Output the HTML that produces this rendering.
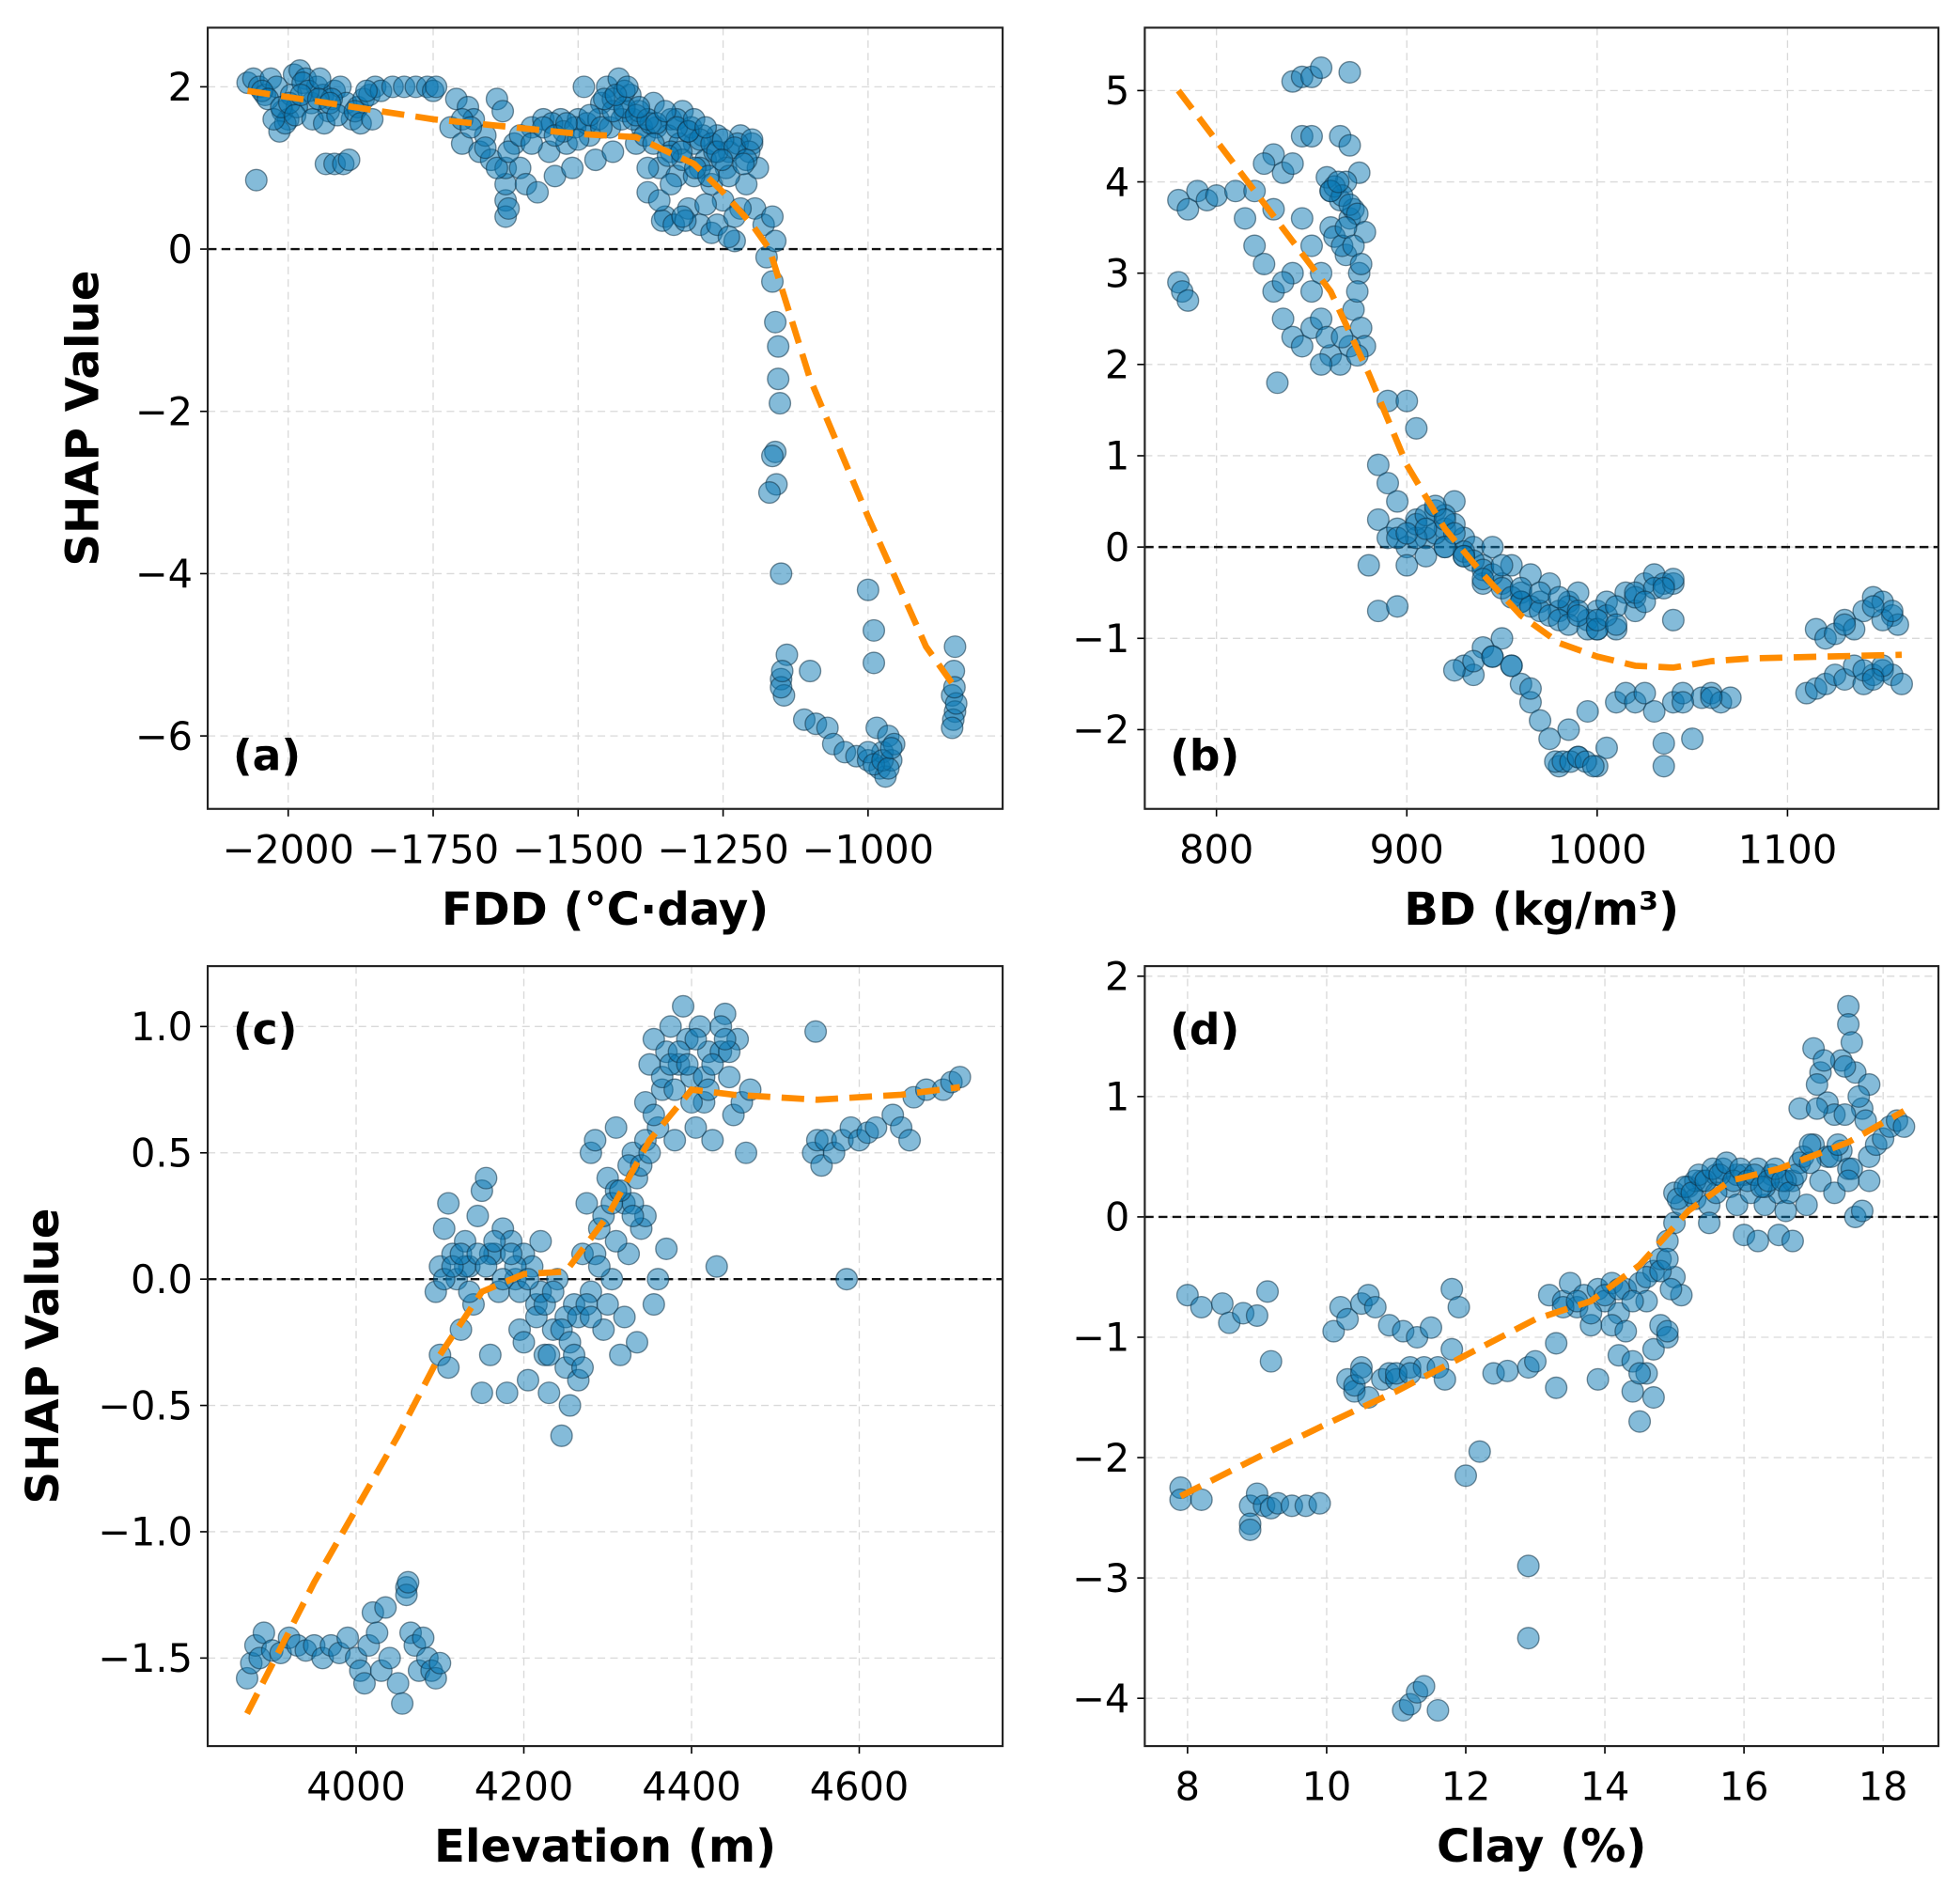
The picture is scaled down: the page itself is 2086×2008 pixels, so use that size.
<!DOCTYPE html>
<html><head><meta charset="utf-8">
<style>
html,body{margin:0;padding:0;background:#fff;}
svg{display:block;}
text{font-family:"DejaVu Sans","Liberation Sans",sans-serif;fill:#000;}
</style></head>
<body>
<svg id="fig" width="2086" height="2008" viewBox="0 0 1558 1500" xmlns="http://www.w3.org/2000/svg"></svg>
<script>
// ---------- Panel (a) FDD ----------
const aX=[-2070,-2060,-2050,-2040,-2030,-2020,-2010,-2000,-1990,-1980,-1970,-1960,-1950,-1940,-1930,-1920,-1910,-1900,-1890,-1880,-1870,-1860,-1850,-2015,-2005,-1995,-2055,-1935,-1920,-1905,-1895,-1840,-1820,-1800,-1780,-1760,-1750,-1745,-1720,-1710,-1700,-1690,-1680,-1670,-1660,-1650,-1640,-1630,-1625,-1625,-1625,-1625,-1620,-1610,-1600,-1590,-1580,-1570,-1560,-1550,-1540,-1530,-1520,-1510,-1500,-1490,-1480,-1470,-1460,-1450,-1440,-1430,-1420,-1410,-1400,-1390,-1380,-1370,-1360,-1350,-1340,-1330,-1320,-1310,-1300,-1290,-1280,-1270,-1260,-1250,-1240,-1230,-1220,-1210,-1200,-1195,-1190,-1180,-1175,-1165,-1160,-1165,-1160,-1155,-1155,-1152,-1160,-1158,-1150,-1150,-1145,-1140,-1110,-1100,-1090,-1070,-1060,-1040,-1020,-1000,-990,-990,-1000,-985,-980,-975,-970,-965,-960,-955,-850,-852,-855,-850,-853,-848,-851,-855,-1545,-1525,-1505,-1485,-1465,-1445,-1425,-1405,-1385,-1365,-1345,-1325,-1305,-1285,-1265,-1245,-1225,-1205,-1355,-1335,-1315,-1975,-1965,-1945,-1925,-1985,-1440,-1420,-1395,-1375,-1330,-1310,-1290,-1270];
const aY=[2.05,2.1,2.0,1.9,2.1,2.0,1.7,1.6,2.15,2.2,2.1,1.8,2.0,1.9,1.7,1.95,2.0,1.8,1.6,1.75,1.85,1.9,2.0,1.45,1.55,1.9,0.85,1.05,1.05,1.05,1.1,1.95,2.0,2.0,2.0,2.0,1.95,2.0,1.5,1.85,1.3,1.75,1.6,1.2,1.4,1.1,1.85,1.7,0.6,0.8,1.0,0.4,0.5,1.3,1.0,0.8,1.5,0.7,1.6,1.2,0.9,1.6,1.3,1.0,1.6,2.0,1.4,1.1,1.8,2.0,1.2,2.1,1.7,1.9,1.3,1.5,0.7,1.8,1.0,0.4,1.6,0.9,1.7,0.5,1.3,0.3,1.1,0.2,1.4,0.6,1.2,0.1,1.4,0.8,1.3,0.5,1.0,0.3,-0.1,0.4,0.1,-0.4,-0.9,-1.2,-1.6,-1.9,-2.5,-2.9,-4.0,-5.3,-5.5,-5.0,-5.8,-5.2,-5.85,-5.9,-6.1,-6.2,-6.25,-4.2,-4.7,-5.1,-6.3,-5.9,-6.4,-6.2,-6.5,-6.0,-6.3,-6.1,-4.9,-5.2,-5.5,-5.7,-5.8,-5.6,-5.4,-5.9,1.55,1.45,1.5,1.55,1.6,1.5,1.6,1.6,1.4,1.5,1.4,1.3,1.5,1.4,1.2,1.0,1.3,1.2,0.35,0.3,0.35,2.05,1.95,2.1,1.85,1.75,1.85,1.95,1.7,1.55,1.6,1.45,1.35,1.3];
const aX2=[-2045,-2035,-2025,-2012,-1998,-1988,-1978,-1958,-1948,-1938,-1928,-1915,-1885,-1875,-1865,-1855,-1700,-1685,-1660,-1640,-1620,-1600,-1580,-1560,-1540,-1520,-1500,-1480,-1460,-1440,-1420,-1400,-1380,-1365,-1350,-1340,-1330,-1320,-1310,-1300,-1290,-1280,-1270,-1260,-1250,-1240,-1230,-1220,-1210,-1200,-1380,-1360,-1340,-1320,-1300,-1280,-1260,-1240,-1455,-1435,-1415,-1395,-1370,-1345,-1322,-1298,-1275,-1252,-1230,-1215,-1000,-990,-975,-965,-960,-1150,-1148,-1165,-1170];
const aY2=[1.95,1.85,1.6,1.75,1.8,1.65,1.9,1.6,1.85,1.55,1.8,1.65,1.7,1.55,1.95,1.6,1.6,1.5,1.25,1.0,1.2,1.4,1.3,1.5,1.4,1.55,1.35,1.65,1.5,1.7,1.75,1.65,1.6,1.55,1.7,1.2,1.5,1.1,1.45,1.6,1.0,1.5,0.8,1.2,1.35,0.9,1.25,0.5,1.1,1.35,1.0,0.6,0.8,0.4,0.9,0.55,0.3,0.15,1.85,1.9,2.0,1.75,1.3,1.15,1.2,1.0,0.9,1.1,0.4,1.05,-6.2,-6.35,-6.3,-6.4,-6.15,-5.4,-5.2,-2.55,-3.0];
const aLineX=[-2070,-1750,-1500,-1400,-1300,-1250,-1200,-1170,-1100,-1000,-900,-850];
const aLineY=[1.95,1.6,1.42,1.38,1.05,0.7,0.3,0.0,-1.6,-3.3,-4.9,-5.4];
const aXTicks=[-2000,-1750,-1500,-1250,-1000];
const aXTickLabels=["−2000","−1750","−1500","−1250","−1000"];
const aYTicks=[2,0,-2,-4,-6];
const aYTickLabels=["2","0","−2","−4","−6"];

// ---------- Panel (b) BD ----------
const bX=[780,782,785,780,785,790,795,800,810,815,820,825,830,835,840,825,830,835,840,845,850,855,860,865,870,832,840,845,850,855,870,845,850,855,860,865,870,875,860,862,865,868,870,872,875,876,878,845,850,840,830,820,835,850,855,890,900,905,885,890,895,885,890,895,900,905,910,915,920,925,930,935,940,945,950,955,960,965,970,975,980,985,990,995,1000,1005,1010,1015,1020,1025,1030,1035,1040,880,885,895,900,910,920,930,935,940,945,950,955,960,965,970,975,980,985,990,995,1000,1005,1010,1015,1020,1025,1030,1035,1035,1040,1045,1050,1055,1060,1065,1070,1110,1115,1120,1125,1130,1135,1140,1145,1150,1155,1160,1115,1120,1125,1130,1135,1140,1145,1150,1155,1158,920,915,905,925,868,872,866,874,930,940,960,985,1000,1020];
const bY=[2.9,2.8,2.7,3.8,3.7,3.9,3.8,3.85,3.9,3.6,3.3,3.1,4.3,4.1,4.2,4.2,2.8,2.5,2.3,2.2,2.4,2.5,2.1,2.0,2.2,1.8,5.1,5.15,5.15,5.25,5.2,4.5,4.5,3.0,3.5,4.5,4.4,4.1,3.9,3.4,3.8,3.2,3.6,2.6,3.0,2.4,2.2,3.6,3.3,3.0,3.7,3.9,2.9,2.8,2.0,1.6,1.6,1.3,0.9,0.7,0.5,0.3,0.1,0.2,0.0,0.3,0.1,0.4,0.2,0.5,0.1,0.0,-0.2,0.0,-0.4,-0.2,-0.5,-0.3,-0.6,-0.4,-0.7,-0.6,-0.5,-0.8,-0.7,-0.6,-0.9,-0.5,-0.7,-0.4,-0.3,-0.4,-0.8,-0.2,-0.7,-0.65,-0.2,-0.1,0.0,-1.3,-1.4,-1.1,-1.2,-1.0,-1.3,-1.5,-1.7,-1.9,-2.1,-2.4,-2.0,-2.3,-1.8,-2.4,-2.2,-1.7,-1.6,-1.7,-1.6,-1.8,-2.4,-2.15,-1.7,-1.6,-2.1,-1.65,-1.6,-1.7,-1.65,-1.6,-1.55,-1.5,-1.4,-1.45,-1.3,-1.5,-1.4,-1.35,-1.4,-1.5,-0.9,-1.0,-0.95,-0.8,-0.9,-0.7,-0.55,-0.6,-0.75,-0.85,0.35,0.15,0.1,0.25,4.0,3.7,3.3,2.8,-0.1,-0.4,-0.6,-0.65,-0.9,-0.55];
const bX2=[858,862,866,870,874,878,860,864,868,872,876,858,866,874,905,910,915,920,925,930,935,940,945,950,955,960,965,970,975,980,985,990,995,1000,1005,1010,1020,1030,1040,895,900,910,920,930,940,950,960,970,980,990,1000,1010,1025,1045,1060,978,982,986,990,994,998,925,935,945,955,965,1040,1035,1150,1155,1145,1140,1150,1130,1145];
const bY2=[4.05,3.95,3.85,3.75,3.65,3.45,3.9,4.0,3.5,3.3,3.1,2.3,2.3,2.1,0.25,0.35,0.45,0.3,0.15,-0.05,-0.15,-0.25,-0.3,-0.45,-0.55,-0.6,-0.65,-0.7,-0.75,-0.8,-0.85,-0.7,-0.9,-0.9,-0.75,-0.65,-0.5,-0.45,-0.4,0.1,0.15,0.2,0.0,-0.1,-0.35,-0.2,-0.45,-0.5,-0.55,-0.75,-0.8,-0.85,-0.6,-1.7,-1.65,-2.35,-2.35,-2.35,-2.3,-2.35,-2.4,-1.35,-1.25,-1.2,-1.3,-1.55,-0.35,-0.45,-0.8,-0.7,-0.65,-1.35,-1.3,-0.85,-1.45];
const bLineX=[780,820,860,880,900,920,940,960,980,1000,1020,1040,1060,1080,1120,1160];
const bLineY=[5.0,3.9,2.8,1.9,0.9,0.2,-0.3,-0.75,-1.05,-1.2,-1.3,-1.32,-1.25,-1.22,-1.2,-1.18];
const bXTicks=[800,900,1000,1100];
const bXTickLabels=["800","900","1000","1100"];
const bYTicks=[5,4,3,2,1,0,-1,-2];
const bYTickLabels=["5","4","3","2","1","0","−1","−2"];

// ---------- Panel (c) Elevation ----------
const cX=[3870,3875,3880,3885,3890,3900,3910,3920,3930,3940,3950,3960,3970,3980,3990,4000,4005,4010,4015,4020,4025,4030,4035,4040,4050,4055,4060,4065,4070,4075,4080,4085,4090,4095,4100,4095,4100,4105,4110,4100,4110,4115,4120,4125,4130,4135,4140,4145,4150,4155,4150,4160,4165,4170,4175,4180,4185,4190,4195,4200,4205,4210,4215,4220,4225,4230,4235,4240,4245,4250,4255,4260,4265,4270,4275,4280,4285,4290,4295,4300,4305,4310,4315,4320,4325,4330,4335,4340,4345,4350,4355,4360,4365,4370,4375,4380,4385,4390,4395,4400,4405,4410,4415,4420,4425,4430,4435,4440,4445,4450,4455,4460,4465,4470,4360,4370,4355,4345,4545,4550,4555,4548,4560,4570,4580,4585,4590,4600,4610,4620,4640,4650,4660,4665,4680,4700,4710,4720,4130,4160,4190,4220,4250,4280,4310,4330];
const cY=[-1.58,-1.52,-1.45,-1.5,-1.4,-1.47,-1.48,-1.42,-1.45,-1.47,-1.45,-1.5,-1.45,-1.48,-1.42,-1.5,-1.55,-1.6,-1.45,-1.32,-1.4,-1.55,-1.3,-1.5,-1.6,-1.68,-1.22,-1.4,-1.45,-1.55,-1.42,-1.5,-1.55,-1.58,-1.52,-0.05,0.05,0.2,0.3,-0.3,-0.35,0.1,0.0,-0.2,0.15,0.05,-0.1,0.25,0.35,0.4,-0.45,-0.3,0.1,-0.05,0.2,-0.45,0.15,0.0,-0.2,0.1,-0.4,0.05,-0.1,0.15,-0.3,-0.45,-0.2,0.0,-0.62,-0.35,-0.5,-0.1,-0.4,0.1,0.3,0.5,0.55,0.2,-0.2,0.4,0.0,0.6,-0.3,0.3,0.1,0.5,-0.25,0.2,0.7,0.85,0.95,0.6,0.75,0.9,1.0,0.55,0.85,1.08,0.95,0.8,0.6,1.0,0.7,0.9,0.55,0.05,0.9,1.05,0.8,0.65,0.95,0.7,0.5,0.75,0.0,0.12,-0.1,0.25,0.5,0.55,0.45,0.98,0.55,0.5,0.55,0.0,0.6,0.55,0.58,0.6,0.65,0.6,0.55,0.72,0.75,0.75,0.78,0.8,0.05,0.1,0.05,-0.05,-0.15,-0.05,0.35,0.3];
const cX2=[4105,4115,4125,4135,4145,4155,4165,4175,4185,4195,4205,4215,4225,4235,4245,4255,4265,4275,4285,4295,4305,4315,4325,4335,4345,4355,4365,4375,4385,4395,4405,4415,4425,4435,4445,4290,4300,4310,4320,4330,4340,4350,4200,4230,4260,4270,4280,4380,4400,4420,4440,4060,4062];
const cY2=[0.0,0.05,0.1,-0.05,0.1,0.05,0.15,0.0,0.1,-0.05,0.0,-0.15,-0.1,-0.05,-0.2,-0.25,-0.15,-0.1,0.1,0.25,0.3,0.35,0.45,0.4,0.55,0.65,0.8,0.85,0.9,0.85,0.95,0.8,0.85,1.0,0.9,0.05,-0.1,0.15,-0.15,0.25,0.45,0.5,-0.25,-0.3,-0.3,-0.35,-0.15,0.75,0.7,0.75,0.95,-1.25,-1.2];
const cLineX=[3870,3950,4050,4100,4150,4200,4250,4300,4350,4400,4450,4550,4650,4720];
const cLineY=[-1.72,-1.2,-0.62,-0.3,-0.05,0.02,0.03,0.25,0.55,0.75,0.73,0.71,0.73,0.76];
const cXTicks=[4000,4200,4400,4600];
const cXTickLabels=["4000","4200","4400","4600"];
const cYTicks=[1.0,0.5,0.0,-0.5,-1.0,-1.5];
const cYTickLabels=["1.0","0.5","0.0","−0.5","−1.0","−1.5"];

// ---------- Panel (d) Clay ----------
const dX=[7.9,7.9,8.0,8.2,8.2,8.5,8.6,8.8,8.9,8.9,8.9,9.0,9.0,9.1,9.15,9.2,9.2,9.3,9.5,9.7,9.9,10.1,10.2,10.3,10.3,10.4,10.5,10.5,10.6,10.6,10.7,10.8,10.9,10.9,11.0,11.1,11.1,11.2,11.2,11.3,11.3,11.4,11.4,11.5,11.6,11.6,11.7,11.8,11.8,11.9,12.0,12.2,12.4,12.6,12.9,12.9,12.9,13.0,13.2,13.3,13.3,13.4,13.5,13.6,13.7,13.8,13.9,13.9,14.0,14.1,14.2,14.2,14.3,14.4,14.4,14.5,14.5,14.6,14.6,14.7,14.7,14.8,14.8,14.9,14.9,15.0,15.0,15.1,15.0,15.1,15.2,15.3,15.4,15.5,15.5,15.6,15.7,15.8,15.9,16.0,16.0,16.1,16.2,16.2,16.3,16.4,16.5,16.5,16.6,16.7,16.7,16.8,16.8,16.9,17.0,17.0,17.1,17.1,17.2,17.3,17.3,17.4,17.4,17.5,17.5,17.6,17.6,17.7,17.7,17.8,17.8,17.9,18.0,18.1,18.2,18.3,15.3,15.6,15.9,16.3,16.6,17.2,17.5,17.8];
const dY=[-2.25,-2.35,-0.65,-0.75,-2.35,-0.72,-0.88,-0.8,-2.4,-2.55,-2.6,-2.3,-0.82,-2.4,-0.62,-1.2,-2.42,-2.38,-2.4,-2.4,-2.38,-0.95,-0.75,-1.35,-0.85,-1.45,-0.72,-1.25,-0.65,-1.5,-0.75,-1.35,-0.9,-1.3,-1.35,-0.95,-4.1,-1.25,-4.05,-1.0,-3.95,-1.25,-3.9,-0.92,-1.25,-4.1,-1.35,-0.6,-1.1,-0.75,-2.15,-1.95,-1.3,-1.28,-2.9,-3.5,-1.25,-1.2,-0.65,-1.05,-1.42,-0.7,-0.55,-0.75,-0.65,-0.9,-1.35,-0.6,-0.7,-0.55,-1.15,-0.8,-0.6,-1.2,-1.45,-1.7,-0.55,-1.3,-0.7,-0.45,-1.1,-0.9,-0.35,-0.2,-1.0,-0.05,-0.5,-0.65,0.2,0.1,0.25,0.15,0.3,0.1,-0.05,0.35,0.4,0.25,0.1,0.35,-0.15,0.2,0.4,-0.2,0.1,0.35,-0.15,0.2,0.05,0.3,-0.2,0.9,0.45,0.1,1.4,0.6,1.2,0.3,0.95,0.85,0.2,1.3,0.55,1.75,1.6,1.2,0.0,0.9,0.05,1.1,0.5,0.6,0.65,0.75,0.8,0.75,0.3,0.2,0.35,0.25,0.3,0.5,0.4,0.3];
const dX2=[15.05,15.15,15.25,15.35,15.45,15.55,15.65,15.75,15.85,15.95,16.05,16.15,16.25,16.35,16.45,16.55,16.65,16.75,16.85,16.95,17.05,17.15,17.25,17.35,17.45,17.55,17.65,17.75,17.55,17.5,17.45,17.05,16.95,13.4,13.6,13.8,14.0,14.2,14.4,14.6,14.8,14.9,14.95,14.1,14.3,14.5,14.7,14.9,10.4,10.5,11.0,11.2];
const dY2=[0.15,0.25,0.2,0.35,0.3,0.4,0.35,0.45,0.3,0.4,0.3,0.35,0.25,0.3,0.4,0.3,0.2,0.35,0.5,0.45,1.1,1.3,0.5,0.6,1.25,1.45,1.0,0.8,0.4,0.3,0.85,0.9,0.6,-0.75,-0.7,-0.8,-0.65,-0.6,-0.7,-0.5,-0.45,-0.35,-0.6,-0.9,-0.95,-1.3,-1.5,-0.95,-1.4,-1.3,-1.3,-1.3];
const dLineX=[7.9,9,10,11,12,13,13.8,14.5,15.2,15.8,16.5,17.5,18.3];
const dLineY=[-2.32,-2.0,-1.72,-1.45,-1.15,-0.85,-0.7,-0.4,0.05,0.3,0.4,0.62,0.88];
const dXTicks=[8,10,12,14,16,18];
const dXTickLabels=["8","10","12","14","16","18"];
const dYTicks=[2,1,0,-1,-2,-3,-4];
const dYTickLabels=["2","1","0","−1","−2","−3","−4"];

const NS="http://www.w3.org/2000/svg";
const svg=document.getElementById('fig');
function mk(tag,attrs,parent){const e=document.createElementNS(NS,tag);for(const k in attrs)e.setAttribute(k,attrs[k]);(parent||svg).appendChild(e);return e;}

function panel(cfg){
  const g=mk('g',{});
  
  
  const sx=v=>cfg.px0+(v-cfg.xv0)*(cfg.px1-cfg.px0)/(cfg.xv1-cfg.xv0);
  const sy=v=>cfg.py0+(v-cfg.yv0)*(cfg.py1-cfg.py0)/(cfg.yv1-cfg.yv0);
  const L=cfg.L,R=cfg.R,T=cfg.T,B=cfg.B;
  cfg.xt.forEach((t,i)=>{const x=sx(t);
    const gl=mk('line',{x1:x,x2:x,y1:T,y2:B,stroke:'#d9d9d9','stroke-width':1,'stroke-dasharray':'6,4'},g);
    
    
    mk('line',{x1:x,x2:x,y1:B,y2:B+6,stroke:'#000','stroke-width':1.2},g);
    const tx=mk('text',{x:x,y:B+43,'text-anchor':'middle','font-size':31},g);
    tx.textContent=cfg.xtl[i];
    
    
  });
  cfg.yt.forEach((t,i)=>{const y=sy(t);
    const gl=mk('line',{x1:L,x2:R,y1:y,y2:y,stroke:'#d9d9d9','stroke-width':1,'stroke-dasharray':'6,4'},g);
    
    
    mk('line',{x1:L-6,x2:L,y1:y,y2:y,stroke:'#000','stroke-width':1.2},g);
    const tx=mk('text',{x:L-12,y:y+11,'text-anchor':'end','font-size':31},g);
    tx.textContent=cfg.ytl[i];
    
    
  });
  const z=mk('line',{x1:L,x2:R,y1:sy(0),y2:sy(0),stroke:'#111','stroke-width':1.8,'stroke-dasharray':'7,4'},g);
  
  
  const pg=mk('g',{},g);
  
  
  cfg.xs.forEach((v,i)=>{
    const c=mk('circle',{cx:sx(v),cy:sy(cfg.ys[i]),r:8.5,fill:'rgba(10,120,180,0.5)',stroke:'rgba(15,50,70,0.55)','stroke-width':1},pg);
    
    
  });
  const d=cfg.lx.map((v,i)=>(i?'L':'M')+sx(v).toFixed(1)+' '+sy(cfg.ly[i]).toFixed(1)).join(' ');
  const p=mk('path',{d:d,fill:'none',stroke:'#ff8c00','stroke-width':5,'stroke-dasharray':'18,9'},g);
  
  
  const f=mk('rect',{x:L,y:T,width:R-L,height:B-T,fill:'none',stroke:'#222','stroke-width':1.6},g);
  
  
  const pl=mk('text',{x:L+20,y:cfg.letterY,'font-size':34,'font-weight':'bold'},g);
  pl.textContent='('+cfg.id+')';
  
  
  const xl=mk('text',{x:(L+R)/2,y:B+92,'text-anchor':'middle','font-size':36,'font-weight':'bold'},g);
  xl.textContent=cfg.xlabel;
  
  
  if(cfg.ylabelX){
    const yl=mk('text',{x:cfg.ylabelX,y:(T+B)/2,'text-anchor':'middle','font-size':36,'font-weight':'bold',transform:'rotate(-90 '+cfg.ylabelX+' '+(T+B)/2+')'},g);
    yl.textContent='SHAP Value';
    
    
  }
}

panel({id:'a',L:165,R:797,T:22,B:643,xv0:-2000,xv1:-1000,px0:229,px1:690,yv0:2,yv1:-6,py0:69,py1:585,
  xs:aX.concat(aX2),ys:aY.concat(aY2),lx:aLineX,ly:aLineY,xt:aXTicks,xtl:aXTickLabels,yt:aYTicks,ytl:aYTickLabels,letterY:612,xlabel:'FDD (°C·day)',ylabelX:78});
panel({id:'b',L:910,R:1541,T:22,B:643,xv0:800,xv1:1100,px0:967,px1:1421,yv0:5,yv1:-2,py0:72,py1:580,
  xs:bX.concat(bX2),ys:bY.concat(bY2),lx:bLineX,ly:bLineY,xt:bXTicks,xtl:bXTickLabels,yt:bYTicks,ytl:bYTickLabels,letterY:612,xlabel:'BD (kg/m³)'});
panel({id:'c',L:165,R:797,T:768,B:1388,xv0:4000,xv1:4600,px0:283,px1:683,yv0:1,yv1:-1.5,py0:816,py1:1318,
  xs:cX.concat(cX2),ys:cY.concat(cY2),lx:cLineX,ly:cLineY,xt:cXTicks,xtl:cXTickLabels,yt:cYTicks,ytl:cYTickLabels,letterY:830,xlabel:'Elevation (m)',ylabelX:46});
panel({id:'d',L:910,R:1541,T:768,B:1388,xv0:8,xv1:18,px0:944,px1:1497,yv0:2,yv1:-4,py0:776,py1:1350,
  xs:dX.concat(dX2),ys:dY.concat(dY2),lx:dLineX,ly:dLineY,xt:dXTicks,xtl:dXTickLabels,yt:dYTicks,ytl:dYTickLabels,letterY:830,xlabel:'Clay (%)'});
</script>
</body></html>
